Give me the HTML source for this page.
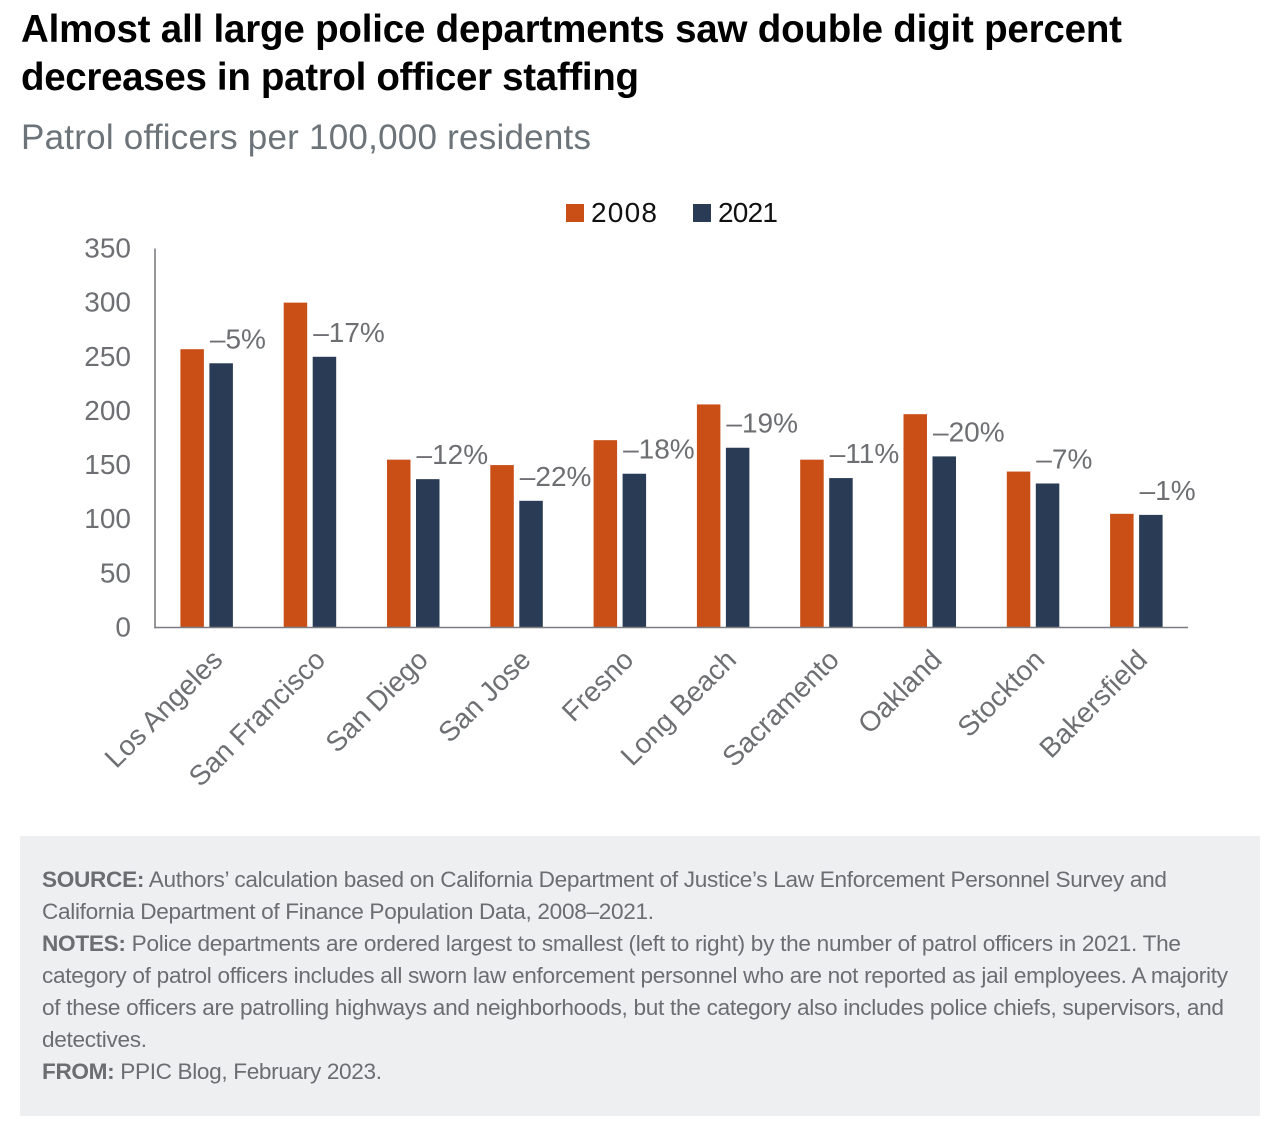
<!DOCTYPE html>
<html lang="en">
<head>
<meta charset="utf-8">
<title>Patrol officer staffing</title>
<style>
html,body{margin:0;padding:0;background:#fff;}
body{width:1280px;height:1122px;overflow:hidden;}
svg{display:block;font-family:"Liberation Sans",Arial,sans-serif;}
</style>
</head>
<body>
<svg id="chart" xmlns="http://www.w3.org/2000/svg" width="1280" height="1122" viewBox="0 0 1280 1122">
  <g>
    <text x="21" y="42" font-size="38.5" font-weight="700" fill="#000" textLength="1101" lengthAdjust="spacing">Almost all large police departments saw double digit percent</text>
    <text x="21" y="90" font-size="38.5" font-weight="700" fill="#000" textLength="618" lengthAdjust="spacing">decreases in patrol officer staffing</text>
    <text x="21" y="149" font-size="35" fill="#6c7379" textLength="570" lengthAdjust="spacing">Patrol officers per 100,000 residents</text>
  </g>
  <g>
    <g>
      <rect x="566" y="204" width="18" height="18" fill="#c94f17"/>
      <text x="591" y="222" font-size="28" fill="#111" textLength="66" lengthAdjust="spacing">2008</text>
    </g>
    <g>
      <rect x="693" y="204" width="18" height="18" fill="#2a3b55"/>
      <text x="718" y="222" font-size="28" fill="#111" textLength="60" lengthAdjust="spacing">2021</text>
    </g>
  </g>
  <g id="plot"></g>
  <g font-size="22.6" fill="#6b6d71">
    <rect x="20" y="836" width="1240" height="280" fill="#eeeff1"/>
    <text x="42" y="887" textLength="1125" lengthAdjust="spacing"><tspan font-weight="700">SOURCE:</tspan> Authors’ calculation based on California Department of Justice’s Law Enforcement Personnel Survey and</text>
    <text x="42" y="919" textLength="612" lengthAdjust="spacing">California Department of Finance Population Data, 2008–2021.</text>
    <text x="42" y="951" textLength="1139" lengthAdjust="spacing"><tspan font-weight="700">NOTES:</tspan> Police departments are ordered largest to smallest (left to right) by the number of patrol officers in 2021. The</text>
    <text x="42" y="983" textLength="1186" lengthAdjust="spacing">category of patrol officers includes all sworn law enforcement personnel who are not reported as jail employees. A majority</text>
    <text x="42" y="1015" textLength="1182" lengthAdjust="spacing">of these officers are patrolling highways and neighborhoods, but the category also includes police chiefs, supervisors, and</text>
    <text x="42" y="1047" textLength="105" lengthAdjust="spacing">detectives.</text>
    <text x="42" y="1079" textLength="340" lengthAdjust="spacing"><tspan font-weight="700">FROM:</tspan> PPIC Blog, February 2023.</text>
  </g>
</svg>
<script>
const categories = ["Los Angeles","San Francisco","San Diego","San Jose","Fresno","Long Beach","Sacramento","Oakland","Stockton","Bakersfield"];
const values2008 = [257,300,155,150,173,206,155,197,144,105];
const values2021 = [244,250,137,117,142,166,138,158,133,104];
const changeLabels = ["–5%","–17%","–12%","–22%","–18%","–19%","–11%","–20%","–7%","–1%"];
const yTicks = [0,50,100,150,200,250,300,350];

const NS = "http://www.w3.org/2000/svg";
const plot = document.getElementById("plot");
const axisColor = "#7b7d82";
const textColor = "#6d6f73";
const plotLeft = 155, plotRight = 1188, plotBottom = 627.5, plotTop = 248.5, yMax = 350;
const barWidth = 23.5, barGap = 5.5;

function yScale(v) { return plotBottom - (v / yMax) * (plotBottom - plotTop); }
function xCenter(i) { return plotLeft + (plotRight - plotLeft) * (i + 0.5) / categories.length; }
function make(tag, attrs, text) {
  const el = document.createElementNS(NS, tag);
  for (const k in attrs) el.setAttribute(k, attrs[k]);
  if (text !== undefined) el.textContent = text;
  plot.appendChild(el);
  return el;
}

yTicks.forEach(function (t) {
  const el = make("text", {x: 131, y: yScale(t) + 9, "font-size": 28, "text-anchor": "end", fill: textColor}, String(t));
  
  
});

categories.forEach(function (c, i) {
  const cx = xCenter(i);
  const h1 = plotBottom - yScale(values2008[i]);
  const b1 = make("rect", {x: cx - barGap / 2 - barWidth, y: yScale(values2008[i]), width: barWidth, height: h1, fill: "#c94f17"});
  
  
  const h2 = plotBottom - yScale(values2021[i]);
  const b2 = make("rect", {x: cx + barGap / 2, y: yScale(values2021[i]), width: barWidth, height: h2, fill: "#2a3b55"});
  
  
  const lab = make("text", {x: cx + barGap / 2 + 0.5, y: yScale(values2021[i]) - 15, "font-size": 28, fill: textColor}, changeLabels[i]);
  
  
  const ax = cx + 17.5 - i * 0.55, ay = 661.5;
  const cat = make("text", {x: ax, y: ay, "font-size": 28, "text-anchor": "end", fill: textColor, transform: "rotate(-45 " + ax + " " + ay + ")"}, c);
  
  
});

const yAxis = make("line", {x1: plotLeft, x2: plotLeft, y1: plotTop, y2: plotBottom + 1, stroke: axisColor, "stroke-width": 1.6});


const xAxis = make("line", {x1: plotLeft, x2: plotRight, y1: plotBottom, y2: plotBottom, stroke: axisColor, "stroke-width": 1.6});


</script>
</body>
</html>
